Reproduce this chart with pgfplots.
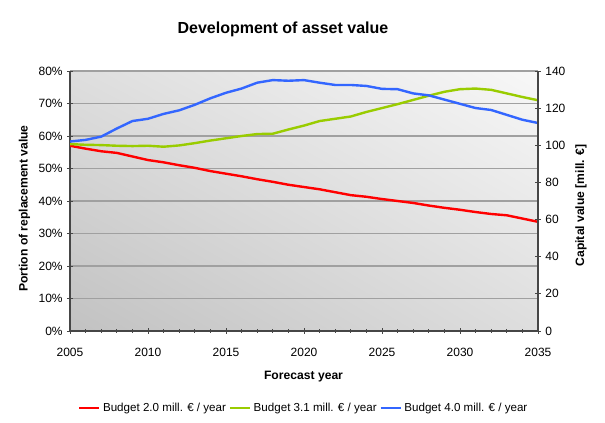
\documentclass[border=0pt]{standalone}
\usepackage{fontspec}
\setmainfont{Liberation Sans}
\usepackage{pgfplots}
\pgfplotsset{compat=1.18}
\usepackage{pgfplotstable}
\usetikzlibrary{shadings}

\definecolor{cRed}{RGB}{255,0,0}
\definecolor{cGreen}{RGB}{153,204,0}
\definecolor{cBlue}{RGB}{51,102,255}
\definecolor{axisgray}{RGB}{70,70,70}
\definecolor{gridgray}{RGB}{160,160,160}

% portion of replacement value in percent
\pgfplotstableread{
year red  green blue
2005 57.0 57.5 58.3
2006 56.1 57.3 58.8
2007 55.3 57.2 59.8
2008 54.8 57.0 62.3
2009 53.7 56.9 64.6
2010 52.6 57.0 65.3
2011 51.9 56.7 66.8
2012 51.0 57.1 67.9
2013 50.2 57.8 69.6
2014 49.2 58.6 71.6
2015 48.4 59.3 73.3
2016 47.6 60.0 74.6
2017 46.7 60.6 76.4
2018 45.9 60.7 77.2
2019 45.0 62.0 77.0
2020 44.3 63.2 77.2
2021 43.6 64.6 76.4
2022 42.7 65.3 75.7
2023 41.8 66.0 75.7
2024 41.3 67.4 75.4
2025 40.6 68.6 74.5
2026 40.0 69.8 74.4
2027 39.4 71.1 73.1
2028 38.6 72.4 72.5
2029 37.9 73.6 71.2
2030 37.3 74.4 69.9
2031 36.6 74.6 68.6
2032 36.0 74.2 68.0
2033 35.6 73.1 66.5
2034 34.6 72.0 65.0
2035 33.6 71.0 64.0
}\assetdata

\tikzset{
  ticklab/.style={font=\fontsize{9}{11}\selectfont},
  axlab/.style={font=\bfseries\fontsize{9.1}{11}\selectfont},
}

\begin{document}
\begin{tikzpicture}
\path[use as bounding box] (0,0) rectangle (453.75pt,317.25pt);
\begin{axis}[
  at={(52.5pt,69pt)}, anchor=south west,
  width=351pt, height=195pt, scale only axis,
  xmin=2005, xmax=2035, ymin=0, ymax=80,
  xtick distance=5, ytick distance=10, minor x tick num=4,
  axis lines*=left,
  axis line style={axisgray, line width=0.8pt},
  every tick/.style={axisgray, line width=0.7pt},
  tick align=center, major tick length=4pt, minor tick length=2.5pt,
  ymajorgrids, major grid style={gridgray, line width=1.1pt},
  axis background/.style={shade, lower left=black!24, upper right=black!3,
    upper left=black!13, lower right=black!13},
  /pgf/number format/assume math mode=true,
  /pgf/number format/1000 sep={},
  xticklabel={\pgfmathprintnumber{\tick}},
  yticklabel={\pgfmathprintnumber{\tick}\%},
  tick label style={ticklab},
  xticklabel style={yshift=-7pt},
  every axis title shift=0pt,
  title={Development of asset value},
  title style={font=\bfseries\fontsize{12}{14}\selectfont, at={(axis description cs:0.455,1.162)}, anchor=center},
  xlabel={Forecast year},
  xlabel style={axlab, at={(axis description cs:0.499,-0.177)}, anchor=center},
  ylabel={Portion of replacement value},
  ylabel style={axlab, at={(axis description cs:-0.097,0.471)}, anchor=center},
  legend style={at={(0.5,-0.297)}, anchor=center, draw=none, fill=none,
    font=\fontsize{8.7}{11}\selectfont, legend columns=3,
    /tikz/every even column/.append style={column sep=0pt}},
  legend image code/.code={\draw[#1] (0pt,0pt) -- (15pt,0pt);},
  every axis plot/.append style={line width=1.8pt},
]
\addplot[cRed] table[x=year, y=red] {\assetdata};
\addlegendentry{Budget 2.0 mill. € / year}
\addplot[cGreen] table[x=year, y=green] {\assetdata};
\addlegendentry{Budget 3.1 mill. € / year}
\addplot[cBlue] table[x=year, y=blue] {\assetdata};
\addlegendentry{Budget 4.0 mill. € / year}
\end{axis}
\begin{axis}[
  at={(52.5pt,69pt)}, anchor=south west,
  width=351pt, height=195pt, scale only axis,
  xmin=2005, xmax=2035, ymin=0, ymax=140,
  ytick distance=20,
  axis x line=none, axis y line*=right,
  axis line style={axisgray, line width=0.8pt},
  every tick/.style={axisgray, line width=0.7pt},
  tick align=center, major tick length=4pt,
  /pgf/number format/assume math mode=true,
  yticklabel={\pgfmathprintnumber{\tick}},
  tick label style={ticklab},
  ylabel={Capital value [mill. €]},
  ylabel style={axlab, at={(axis description cs:1.092,0.483)}, anchor=center},
]
\end{axis}
\end{tikzpicture}
\end{document}
